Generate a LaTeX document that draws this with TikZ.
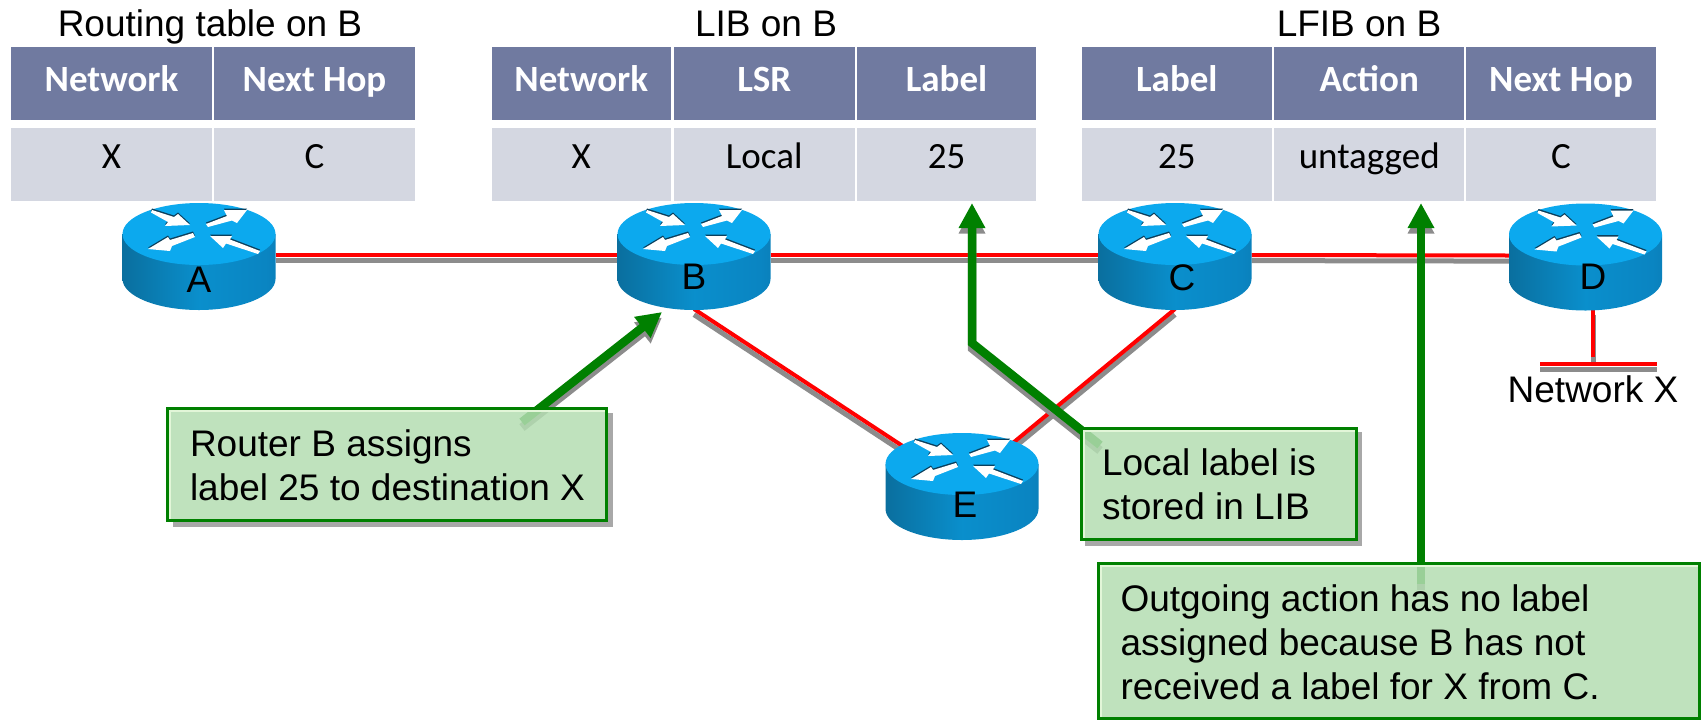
\documentclass[tikz,border=0pt]{standalone}
\usepackage{fontspec}
\setmainfont{Liberation Sans}
\newfontfamily\tblfont{Carlito}
\usetikzlibrary{arrows.meta,calc}
\definecolor{hdr}{HTML}{707AA0}
\definecolor{rowc}{HTML}{D4D7E1}
\definecolor{gr}{HTML}{008000}
\definecolor{shad}{HTML}{8C8C8C}
\definecolor{boxshad}{HTML}{A8A8A8}
\definecolor{boxf}{HTML}{B4DEB2}
\definecolor{boxhi}{HTML}{E2F6D8}
\definecolor{rtop}{HTML}{0CA9EE}
\definecolor{arrdark}{HTML}{0B3F5C}
\pgfdeclarehorizontalshading{routerbody}{100bp}{
 rgb(0bp)=(0.05,0.50,0.72);
 rgb(4bp)=(0.04,0.44,0.64);
 rgb(22bp)=(0.04,0.42,0.60);
 rgb(50bp)=(0.04,0.56,0.80);
 rgb(72bp)=(0.04,0.52,0.76);
 rgb(92bp)=(0.04,0.42,0.60);
 rgb(100bp)=(0.05,0.50,0.72)}
\tikzset{
 basefont/.style={font=\fontsize{37}{44}\selectfont},
 titlenode/.style={basefont,anchor=base,inner sep=0pt,text=black},
 cell/.style={inner sep=0pt,outer sep=0pt,minimum height=73pt,align=center,
   font=\tblfont\fontsize{37}{44}\selectfont},
 hcell/.style={cell,fill=hdr,text=white,font=\tblfont\bfseries\fontsize{37}{44}\selectfont,text height=20pt,text depth=5pt},
 rcell/.style={cell,fill=rowc,text=black,text height=20pt,text depth=13pt},
 routerbox/.style={inner sep=0pt,outer sep=0pt,minimum width=153pt,minimum height=108pt},
 routertext/.style={basefont,anchor=base,inner sep=0pt,text=black},
 link/.style={draw=red,line width=4pt},
 linkshadow/.style={draw=shad,line width=5pt,transform canvas={yshift=-5.6pt}},
 grarrow/.style={draw=gr,line width=8.5pt,-{Triangle[length=25pt,width=25pt]}},
 grshadow/.style={draw=shad,line width=8.5pt,-{Triangle[length=25pt,width=25pt]},transform canvas={yshift=-5.5pt}},
 boxback/.style={inner sep=0pt,outer sep=0pt,fill=white},
 callout/.style={basefont,align=flush left,inner ysep=0pt,draw=gr,line width=3pt,fill=boxf,fill opacity=.85,text opacity=1,draw opacity=1,
   path picture={\draw[boxhi,line width=7pt] (path picture bounding box.south west) -- (path picture bounding box.north west) -- (path picture bounding box.north east);}},
 routerpic/.pic={
   \shade[shading=routerbody] (-76.5,-21) -- (-76.5,24) .. controls (-76.5,41) and (-42,55) .. (0,55) .. controls (42,55) and (76.5,41) .. (76.5,24) -- (76.5,-21) -- cycle;
   \fill[rtop] (0,-21) ellipse [x radius=76.5,y radius=31];
   \begin{scope}[shift={(0,-21)}]
     \foreach \col/\dy in {arrdark/-1.5,white/0}{
     \begin{scope}[shift={(0,\dy)}]
       \fill[\col] (-47,-24) -- (-25,-17) -- (-21,-20) -- (-9,-9) -- (-34,-8) -- (-31,-12) -- (-48,-21.5) -- cycle;
       \fill[\col] (7,-10) -- (28,-18) -- (25,-24) -- (48,-24) -- (38,-11) -- (33,-13.5) -- (9,-7) -- cycle;
       \fill[\col] (-6,-1) -- (-29,6) -- (-31,3) -- (-51,15) -- (-29,17) -- (-27,12) -- (-4,3) -- cycle;
       \fill[\col] (11,2) -- (33,2) -- (31,5.5) -- (61,17) -- (59,20) -- (27,9.5) -- (24,14) -- cycle;
     \end{scope}}
   \end{scope}
 }
}
\begin{document}
\begin{tikzpicture}[x=1pt,y=-1pt]
\useasboundingbox (0,0) rectangle (1702,721);
\clip (0,0) rectangle (1702,721);
% titles
\node[titlenode] (t1) at (210,36) {Routing table on B};
\node[titlenode] (t2) at (766,36) {LIB on B};
\node[titlenode] (t3) at (1359,36) {LFIB on B};
% routing table
\node[hcell,minimum width=201pt] (rh1) at (111.5,83.5) {Network};
\node[hcell,minimum width=201pt] (rh2) at (314.5,83.5) {Next Hop};
\node[rcell,minimum width=201pt] (rc1) at (111.5,164.5) {X};
\node[rcell,minimum width=201pt] (rc2) at (314.5,164.5) {C};
% LIB
\node[hcell,minimum width=179.5pt] (lh1) at (581.25,83.5) {Network};
\node[hcell,minimum width=181.5pt] (lh2) at (764.25,83.5) {LSR};
\node[hcell,minimum width=179pt] (lh3) at (946.5,83.5) {Label};
\node[rcell,minimum width=179.5pt] (lc1) at (581.25,164.5) {X};
\node[rcell,minimum width=181.5pt] (lc2) at (764.25,164.5) {Local};
\node[rcell,minimum width=179pt] (lc3) at (946.5,164.5) {25};
% LFIB
\node[hcell,minimum width=189.6pt] (fh1) at (1176.8,83.5) {Label};
\node[hcell,minimum width=189.6pt] (fh2) at (1369.2,83.5) {Action};
\node[hcell,minimum width=190pt] (fh3) at (1561,83.5) {Next Hop};
\node[rcell,minimum width=189.6pt] (fc1) at (1176.8,164.5) {25};
\node[rcell,minimum width=189.6pt] (fc2) at (1369.2,164.5) {untagged};
\node[rcell,minimum width=190pt] (fc3) at (1561,164.5) {C};
% router places
\node[routerbox] (A) at (199,255) {};
\node[routerbox] (B) at (694,255) {};
\node[routerbox] (C) at (1175,255) {};
\node[routerbox] (D) at (1585.5,255.5) {};
\node[routerbox] (E) at (962,485) {};
\coordinate (stemtop) at (1593,309);
\coordinate (stemend) at (1593,357);
\coordinate (barL) at (1540,363.7);
\coordinate (barR) at (1657,363.7);
% box shadows and backs
\fill[boxshad] (173,413) rectangle (612.5,527);
\fill[boxshad] (1085,432) rectangle (1362,546);
\node[boxback,minimum width=442pt,minimum height=115pt] (box1) at (387,464.5) {};
\node[boxback,minimum width=278pt,minimum height=114pt] (box2) at (1219,484) {};
\node[boxback,minimum width=604pt,minimum height=158pt] (box3) at (1399,641) {};
% links
\foreach \p/\q in {A.east/B.west,B.east/C.west,C.east/D.west,B.south/E.center,C.south/E.center,stemtop/stemend,barL/barR}{
  \draw[linkshadow] (\p) -- (\q);
}
\foreach \p/\q in {A.east/B.west,B.east/C.west,C.east/D.west,B.south/E.center,C.south/E.center,stemtop/stemend,barL/barR}{
  \draw[link] (\p) -- (\q);
}
% routers
\foreach \r in {A,B,C,D,E}{ \pic at (\r.center) {routerpic}; }
\node[routertext] (la) at (199,292.5) {A};
\node[routertext] (lb) at (694,289.5) {B};
\node[routertext] (lc) at (1182,290) {C};
\node[routertext] (ld) at (1593,289.5) {D};
\node[routertext] (le) at (965,517) {E};
% green arrows
\coordinate (kink) at (972,343);
\draw[grshadow] ([xshift=135pt,yshift=-15pt]box1.north) -- ([xshift=-32pt,yshift=-3pt]B.south);
\draw[grarrow] ([xshift=135pt,yshift=-15pt]box1.north) -- ([xshift=-32pt,yshift=-3pt]B.south);
\draw[grshadow] ([xshift=20pt,yshift=-18pt]box2.north west) -- (kink) -- ([xshift=25.5pt,yshift=-2pt]lc3.south);
\draw[grarrow] ([xshift=20pt,yshift=-18pt]box2.north west) -- (kink) -- ([xshift=25.5pt,yshift=-2pt]lc3.south);
\draw[grshadow] ([xshift=22pt,yshift=-22pt]box3.north) -- ([xshift=51.8pt,yshift=-2pt]fc2.south);
\draw[grarrow] ([xshift=22pt,yshift=-22pt]box3.north) -- ([xshift=51.8pt,yshift=-2pt]fc2.south);
% callouts
\node[callout,inner xsep=22.5pt,text width=394pt,minimum height=112pt] (b1) at (box1.center)
  {\rule{0pt}{35pt}Router B assigns\\\mbox{label 25 to destination X}\rule[-8pt]{0pt}{8pt}};
\node[callout,inner xsep=20.5pt,text width=234pt,minimum height=111pt] (b2) at (box2.center)
  {\rule{0pt}{34pt}Local label is\\stored in LIB\rule[-8pt]{0pt}{8pt}};
\node[callout,inner xsep=22pt,text width=557pt,minimum height=155pt] (b3) at (box3.center)
  {\rule{0pt}{36pt}Outgoing action has no label\\assigned because B has not\\received a label for X from C.\rule[-8pt]{0pt}{8pt}};
\node[titlenode] (nx) at (1593,402) {Network X};
\end{tikzpicture}
\end{document}
